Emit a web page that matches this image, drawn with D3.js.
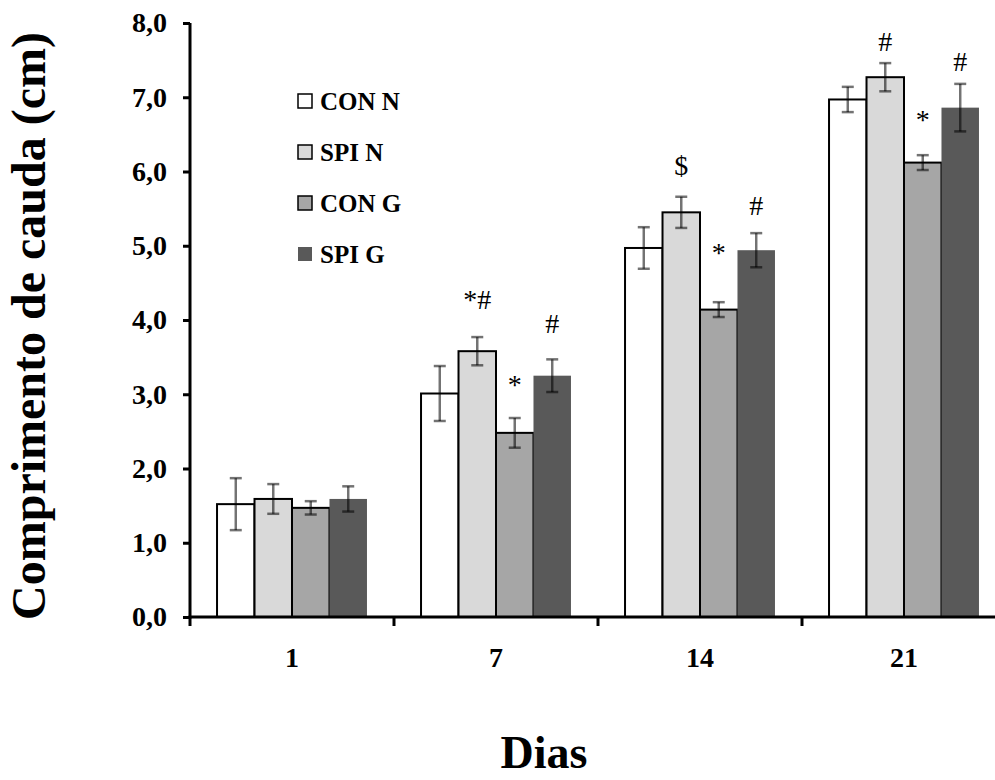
<!DOCTYPE html>
<html>
<head>
<meta charset="utf-8">
<script src="https://cdn.jsdelivr.net/npm/d3@7"></script>
<style>
  body { margin: 0; background: #fff; }
  text { font-family: "Liberation Serif", "Times New Roman", serif; }
</style>
</head>
<body>
<div id="chart"></div>
<script>
// data
const days = ['1', '7', '14', '21'];
const groups = ['CON N', 'SPI N', 'CON G', 'SPI G'];
const means = {
  'CON N': [1.52, 3.01, 4.97, 6.97],
  'SPI N': [1.59, 3.58, 5.45, 7.27],
  'CON G': [1.47, 2.48, 4.14, 6.12],
  'SPI G': [1.59, 3.25, 4.94, 6.86],
};
const errors = {
  'CON N': [0.35, 0.37, 0.28, 0.17],
  'SPI N': [0.20, 0.19, 0.21, 0.19],
  'CON G': [0.09, 0.20, 0.10, 0.10],
  'SPI G': [0.17, 0.22, 0.23, 0.32],
};
// significance marks: day, group, text, value where the baseline sits
const marks = [
  { day: '7', group: 'SPI N', label: '*#', at: 4.15 },
  { day: '7', group: 'CON G', label: '*', at: 3.0 },
  { day: '7', group: 'SPI G', label: '#', at: 3.82 },
  { day: '14', group: 'SPI N', label: '$', at: 5.95 },
  { day: '14', group: 'CON G', label: '*', at: 4.78 },
  { day: '14', group: 'SPI G', label: '#', at: 5.41 },
  { day: '21', group: 'SPI N', label: '#', at: 7.62 },
  { day: '21', group: 'CON G', label: '*', at: 6.57 },
  { day: '21', group: 'SPI G', label: '#', at: 7.35 },
];
const yTicks = [0, 1, 2, 3, 4, 5, 6, 7, 8];

const width = 995;
const height = 780;
const fills = ['#ffffff', '#d9d9d9', '#a6a6a6', '#595959'];
const strokes = ['#000', '#000', '#000', 'none'];

const svg = d3.select('#chart')
  .append('svg')
  .attr('width', width)
  .attr('height', height);

const y = d3.scaleLinear().domain([0, 8]).range([617, 23]);

const x0 = d3.scaleBand()
  .domain(days)
  .range([190, 1006])
  .paddingInner(0.265)
  .paddingOuter(0.1325);

const x1 = d3.scaleBand()
  .domain(groups)
  .range([0, x0.bandwidth()]);

const color = d3.scaleOrdinal().domain(groups).range(fills);
const outline = d3.scaleOrdinal().domain(groups).range(strokes);

// bars
const rows = [];
days.forEach((d, i) => {
  groups.forEach((g) => {
    rows.push({ day: d, group: g, value: means[g][i], err: errors[g][i] });
  });
});

const bar = svg.append('g')
  .selectAll('g')
  .data(rows)
  .enter()
  .append('g')
  .attr('transform', (d) => `translate(${x0(d.day) + x1(d.group)},0)`);

bar.append('rect')
  .attr('x', 0)
  .attr('y', (d) => y(d.value))
  .attr('width', x1.bandwidth())
  .attr('height', (d) => y(0) - y(d.value))
  .attr('fill', (d) => color(d.group))
  .attr('stroke', (d) => outline(d.group))
  .attr('stroke-width', 2);

// error bars
const cx = x1.bandwidth() / 2;
const err = bar.append('g')
  .attr('stroke', '#000')
  .attr('stroke-opacity', 0.55)
  .attr('stroke-width', 2.5);
err.append('line')
  .attr('x1', cx).attr('x2', cx)
  .attr('y1', (d) => y(d.value + d.err))
  .attr('y2', (d) => y(d.value - d.err));
err.append('line')
  .attr('x1', cx - 6).attr('x2', cx + 6)
  .attr('y1', (d) => y(d.value + d.err))
  .attr('y2', (d) => y(d.value + d.err));
err.append('line')
  .attr('x1', cx - 6).attr('x2', cx + 6)
  .attr('y1', (d) => y(d.value - d.err))
  .attr('y2', (d) => y(d.value - d.err));

// significance marks
svg.append('g')
  .selectAll('text')
  .data(marks)
  .enter()
  .append('text')
  .attr('x', (d) => x0(d.day) + x1(d.group) + x1.bandwidth() / 2)
  .attr('y', (d) => y(d.at))
  .attr('text-anchor', 'middle')
  .attr('font-size', 28)
  .attr('fill', '#000')
  .text((d) => d.label);

// y axis
const yAxis = svg.append('g')
  .attr('transform', 'translate(190,0)')
  .call(d3.axisLeft(y)
    .tickValues(yTicks)
    .tickSize(7)
    .tickPadding(16)
    .tickFormat((d) => d3.format('.1f')(d).replace('.', ',')));
yAxis.select('.domain').attr('stroke-width', 3).attr('d', `M0,${y(8)}V${y(0) + 1.5}`);
yAxis.selectAll('.tick line').attr('stroke-width', 3);
yAxis.selectAll('.tick text')
  .attr('font-family', '"Liberation Serif", serif')
  .attr('font-weight', 'bold')
  .attr('font-size', 28)
  .attr('fill', '#000');

// x axis: labels under the groups, ticks on the group borders
const xAxis = svg.append('g')
  .attr('transform', `translate(0,${y(0)})`)
  .call(d3.axisBottom(x0).tickSize(0).tickPadding(30));
xAxis.select('.domain').attr('stroke-width', 3).attr('d', `M188.5,0H1006`);
xAxis.selectAll('.tick text')
  .attr('font-family', '"Liberation Serif", serif')
  .attr('font-weight', 'bold')
  .attr('font-size', 28)
  .attr('fill', '#000');

const step = x0.step();
const borders = days.map((d) => x0(d) - step * x0.paddingInner() / 2).concat([1006]);
xAxis.selectAll('.border')
  .data(borders)
  .enter()
  .append('line')
  .attr('class', 'border')
  .attr('x1', (d) => d).attr('x2', (d) => d)
  .attr('y1', 0).attr('y2', 9)
  .attr('stroke', '#000')
  .attr('stroke-width', 3);

// axis titles
svg.append('text')
  .attr('x', 544)
  .attr('y', 768)
  .attr('text-anchor', 'middle')
  .attr('font-weight', 'bold')
  .attr('font-size', 46)
  .text('Dias');

svg.append('text')
  .attr('transform', 'translate(45,326) rotate(-90)')
  .attr('text-anchor', 'middle')
  .attr('font-weight', 'bold')
  .attr('font-size', 48)
  .text('Comprimento de cauda (cm)');

// legend
const legend = svg.append('g')
  .selectAll('g')
  .data(groups)
  .enter()
  .append('g')
  .attr('transform', (d, i) => `translate(298,${101 + i * 51})`);

legend.append('rect')
  .attr('x', 0)
  .attr('y', -7)
  .attr('width', 14)
  .attr('height', 14)
  .attr('fill', (d) => color(d))
  .attr('stroke', (d) => outline(d) === 'none' ? 'none' : '#000')
  .attr('stroke-width', 1.5);

legend.append('text')
  .attr('x', 22)
  .attr('y', 9)
  .attr('font-weight', 'bold')
  .attr('font-size', 25)
  .text((d) => d);
</script>
</body>
</html>
